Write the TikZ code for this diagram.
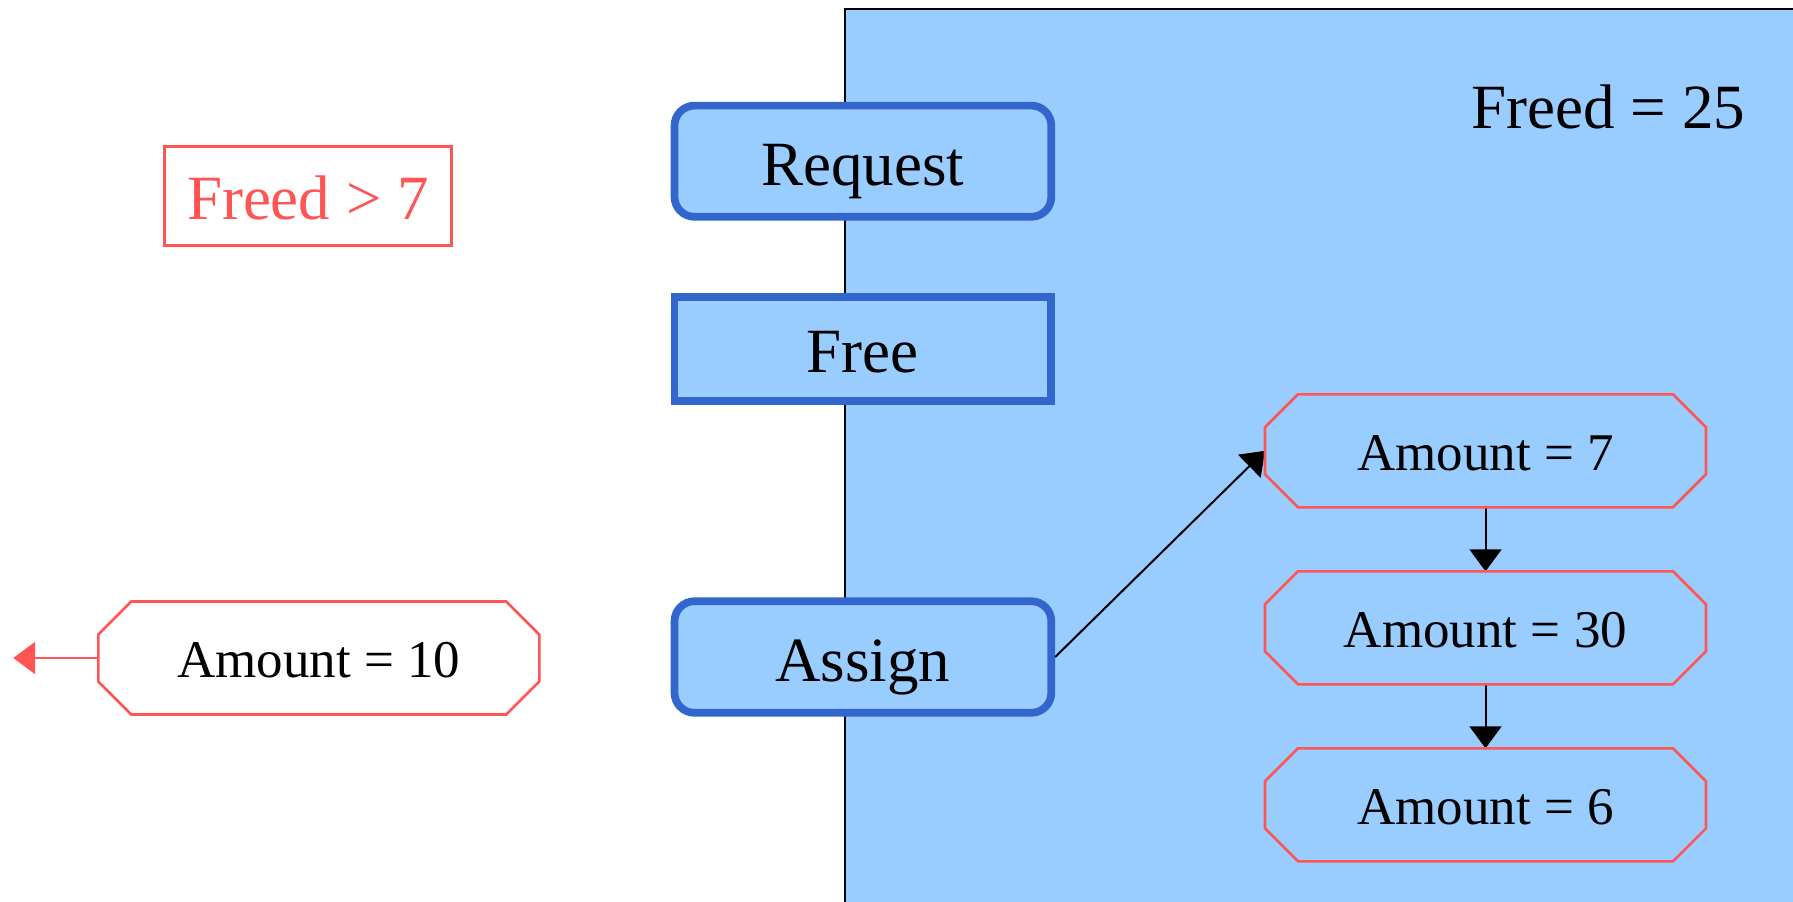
\documentclass[tikz,border=0pt]{standalone}
\usepackage{fontspec}
\setmainfont{Liberation Serif}
\usepackage{tikz}
\usetikzlibrary{positioning}
\usetikzlibrary{arrows.meta}
\definecolor{regionblue}{HTML}{99CCFF}
\definecolor{edgeblue}{HTML}{3366CC}
\definecolor{guardred}{HTML}{FF5555}
\newcommand{\labelfont}{\fontsize{31.5}{36}\selectfont}
\newcommand{\amountfont}{\fontsize{26.5}{30}\selectfont}
\tikzset{event/.style={draw=edgeblue,fill=regionblue,line width=3.85pt,minimum width=188.4pt,text height=24pt,text depth=0pt,font=\labelfont}}
\tikzset{roundevent/.style={event,rounded corners=10pt}}
\tikzset{guard/.style={draw=guardred,line width=1.3pt,text=guardred,minimum width=143.6pt,minimum height=49.5pt,text height=23.5pt,text depth=0pt,font=\labelfont}}
\tikzset{amount/.style={minimum width=220.5pt,minimum height=56.5pt,outer sep=0pt,text height=19.5pt,text depth=0pt,font=\amountfont}}
\tikzset{octagon/.style={draw=guardred,line width=1.3pt}}

\begin{document}
\begin{tikzpicture}[x=0.5pt,y=-0.5pt,>={Triangle[length=11pt,width=16pt]}]
        \useasboundingbox (0,0) rectangle (1793,901);
        % blue region
        \fill[regionblue] (845,9) rectangle (1800,910);
        \draw[line width=1pt] (845,910) -- (845,9) -- (1800,9);
        \node[font=\labelfont,text height=24pt,text depth=0pt] (freed) at (1608.5,104.3) {Freed = 25};
        \node[guard] (cond) at (308,195.8) {Freed > 7};
        % events
        \node[roundevent,minimum height=55.6pt] (request) at (862.9,161.2) {Request};
        \node[event,minimum height=52pt,text height=23pt] (free) at (862.9,349.2) {Free};
        \node[roundevent,minimum height=55.8pt] (assign) at (862.9,657) {Assign};
        % amounts
        \node[amount,fill=white] (a10) at (318.8,658) {Amount = 10};
        \coordinate (out) at (13.2,658);
            \path[draw,->,guardred,line width=1.3pt] (a10.west) -- (out);
        \node[amount] (a7) at (1485.5,450.8) {Amount = 7};
            \path[draw,->,line width=1pt] (assign.east) -- (a7.west);
        \node[amount,below=32pt of a7] (a30) {Amount = 30};
            \path[draw,->,line width=1pt] (a7) -- (a30);
        \node[amount,below=32pt of a30] (a6) {Amount = 6};
            \path[draw,->,line width=1pt] (a30) -- (a6);
        \foreach \n in {a10,a7,a30,a6}
            \draw[octagon] ([xshift=16.5pt]\n.north west) -- ([xshift=-16.5pt]\n.north east) -- ([yshift=-16.5pt]\n.north east) -- ([yshift=16.5pt]\n.south east) -- ([xshift=-16.5pt]\n.south east) -- ([xshift=16.5pt]\n.south west) -- ([yshift=16.5pt]\n.south west) -- ([yshift=-16.5pt]\n.north west) -- cycle;
    \end{tikzpicture}
\end{document}
